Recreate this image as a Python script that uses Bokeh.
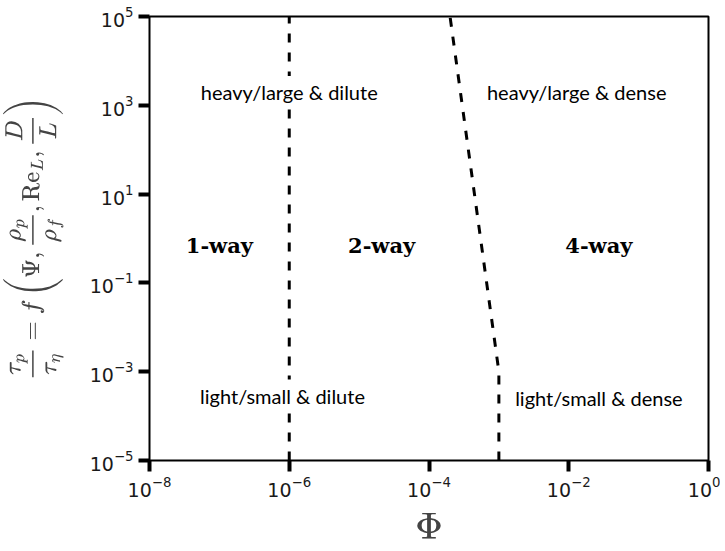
from bokeh.plotting import figure
from bokeh.models import ColumnDataSource, FixedTicker
from bokeh.core.properties import value
from bokeh.embed import file_html
from bokeh.resources import INLINE

# data
dilute_x = [1e-6, 1e-6]
dilute_y = [1e-5, 1e5]
dense_x = [1e-3, 1e-3, 2e-4]
dense_y = [1e-5, 1e-3, 1e5]

regime_labels = ["heavy/large & dilute", "heavy/large & dense",
                 "light/small & dilute", "light/small & dense"]
regime_x = [1e-6, 1.3e-2, 8e-7, 2.7e-2]
regime_y = [2e3, 2e3, 2.9e-4, 2.6e-4]

coupling_labels = ["1-way", "2-way", "4-way"]
coupling_x = [1e-7, 2.1e-5, 2.7e-2]
coupling_y = [0.7, 0.7, 0.7]

x_ticks = [1e-8, 1e-6, 1e-4, 1e-2, 1e0]
y_ticks = [1e-5, 1e-3, 1e-1, 1e1, 1e3, 1e5]

p = figure(width=720, height=551, x_axis_type="log", y_axis_type="log",
           x_range=(1e-8, 1e0), y_range=(1e-5, 1e5),
           output_backend="svg", toolbar_location=None,
           min_border_left=149, min_border_right=12,
           min_border_top=16, min_border_bottom=89)

p.grid.visible = False
p.outline_line_color = "black"
p.outline_line_width = 2

p.line(dilute_x, dilute_y, line_color="black", line_width=3, line_dash="9 10")
p.line(dense_x, dense_y, line_color="black", line_width=3, line_dash="9 10")

src1 = ColumnDataSource(dict(x=regime_x, y=regime_y, t=regime_labels))
p.text("x", "y", text="t", source=src1, text_align="center", text_baseline="middle",
       text_font=value("Lato"), text_font_size="20px", text_color="black",
       background_fill_color="white", padding=4)

src2 = ColumnDataSource(dict(x=coupling_x, y=coupling_y, t=coupling_labels))
p.text("x", "y", text="t", source=src2, text_align="center", text_baseline="middle",
       text_font=value("DejaVu Serif"), text_font_size="21px", text_font_style="bold",
       text_color="black")

for ax in (p.xaxis[0], p.yaxis[0]):
    ax.axis_line_color = None
    ax.major_tick_line_width = 4
    ax.major_tick_out = 11
    ax.major_tick_in = 0
    ax.minor_tick_line_color = None
    ax.major_label_text_font = "DejaVu Sans"
    ax.major_label_text_font_size = "19px"
    ax.major_label_text_color = "#1a1a1a"

p.xaxis.major_label_standoff = 4
p.yaxis.major_label_standoff = 5

p.xaxis.ticker = FixedTicker(ticks=x_ticks)
p.yaxis.ticker = FixedTicker(ticks=y_ticks)

p.xaxis.axis_label = r"$$\Phi$$"
p.xaxis.axis_label_text_font_size = "32px"
p.xaxis.axis_label_standoff = 13
p.yaxis.axis_label = r"$$\frac{\tau_p}{\tau_\eta} = f\left(\Psi, \frac{\rho_p}{\rho_f}, \mathrm{Re}_L, \frac{D}{L}\right)$$"
p.yaxis.axis_label_text_font_size = "21px"
p.yaxis.axis_label_standoff = 23

open("out.html", "w").write(file_html(p, INLINE))
